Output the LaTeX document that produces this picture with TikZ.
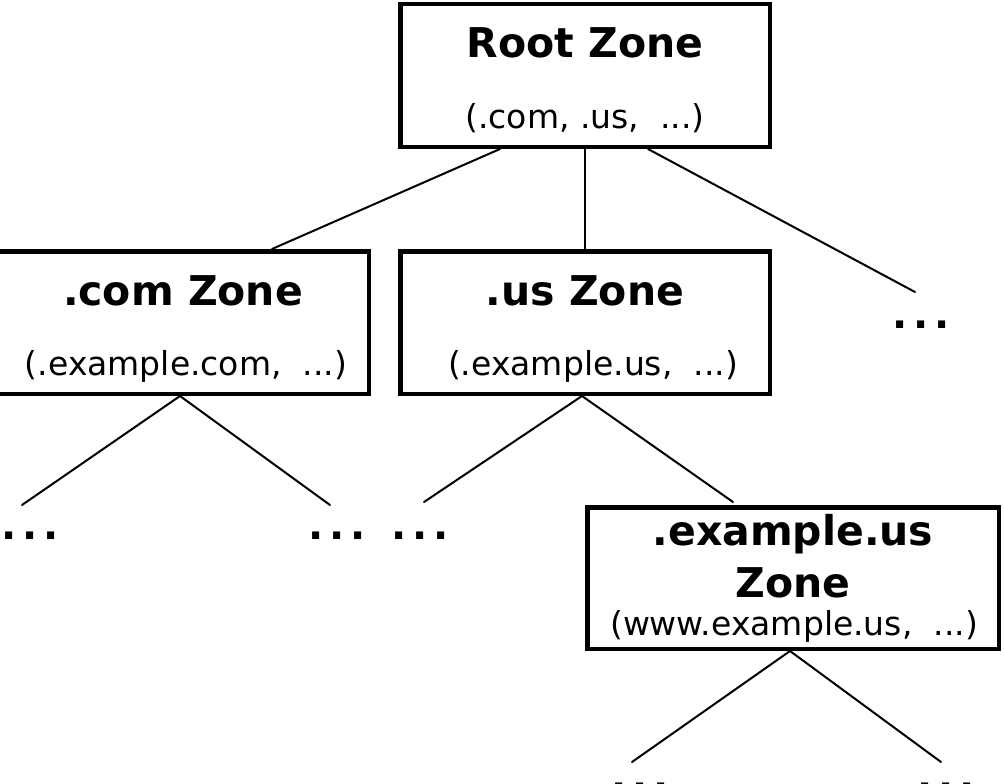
\documentclass[tikz,border=0pt]{standalone}
\usepackage{fontspec}
\setmainfont{DejaVu Sans}
\usetikzlibrary{calc}
\begin{document}
\begin{tikzpicture}[x=1pt,y=-1pt,
  zonebox/.style={draw=black,line width=4.5pt,rectangle,inner sep=0pt,minimum width=369.5pt,minimum height=142.5pt},
  title/.style={font=\fontsize{41}{44}\selectfont\bfseries,anchor=base,inner sep=0pt},
  sub/.style={font=\fontsize{33}{36}\selectfont,anchor=base,inner sep=0pt},
  more/.style={font=\fontsize{40}{44}\selectfont\bfseries,inner sep=0pt,anchor=base},
  link/.style={line width=2pt,line cap=round}]
\useasboundingbox (0,0) rectangle (1004,784);
\clip (0,0) rectangle (1004,784);
% boxes
\node[zonebox] (root) at (585,75.5) {};
\node[zonebox] (us) at (585,322.5) {};
\node[zonebox,minimum width=380pt] (com) at (178.75,322.5) {};
\node[zonebox,minimum width=411.5pt,minimum height=141.5pt] (ex) at (793,578) {};
% texts
\node[title] (roott) at (585,58) {Root Zone};
\node[sub] (roots) at (585,128) {(.com, .us,~~...)};
\node[title] (comt) at (183,305) {.com Zone};
\node[sub] (coms) at (186,375) {(.example.com,~~...)};
\node[title] (ust) at (585,305) {.us Zone};
\node[sub] (uss) at (593,375) {(.example.us,~~...)};
\node[title] (ext1) at (793,545) {.example.us};
\node[title] (ext2) at (793,597) {Zone};
\node[sub] (exs) at (794,635) {(www.example.us,~~...)};
% ellipses
\newcommand{\mydots}{.\kern6pt.\kern6pt.}
\node[more] (d0) at (921,328) {\mydots};
\node[more] (d1) at (30,539) {\mydots};
\node[more] (d2) at (337,539) {\mydots};
\node[more] (d3) at (420,539) {\mydots};
\node[more] (d4) at (640,790) {\mydots};
\node[more] (d5) at (946,790) {\mydots};
% free ends
\coordinate (e0) at (915,292);
\coordinate (e1) at (22,505);
\coordinate (e2) at (330,505);
\coordinate (e3) at (424,502);
\coordinate (e4) at (733,502);
\coordinate (e5) at (632,762);
\coordinate (e6) at (941,762);
% connectors
\draw[link] ($(root.south)+(-85,0)$) -- ($(com.north)+(93.25,0)$);
\draw[link] (root.south) -- (us.north);
\draw[link] ($(root.south)+(63,0)$) -- (e0);
\draw[link] ($(com.south)+(1.25,0)$) -- (e1);
\draw[link] ($(com.south)+(1.25,0)$) -- (e2);
\draw[link] ($(us.south)+(-3,0)$) -- (e3);
\draw[link] ($(us.south)+(-3,0)$) -- (e4);
\draw[link] ($(ex.south)+(-3,0)$) -- (e5);
\draw[link] ($(ex.south)+(-3,0)$) -- (e6);
\end{tikzpicture}
\end{document}
